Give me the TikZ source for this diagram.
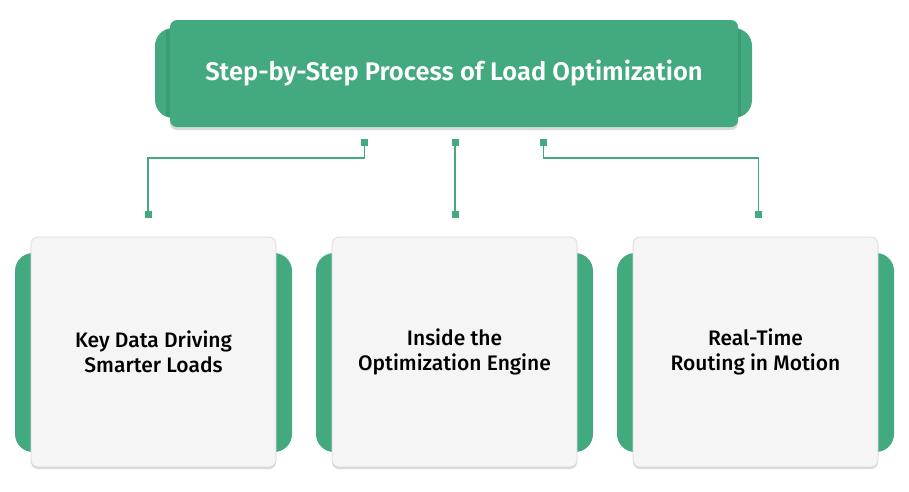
\documentclass[tikz,border=0pt]{standalone}
\usepackage{fontspec}
\setmainfont{Fira Sans}
\newfontfamily\medfont{Fira Sans Medium}
\newfontfamily\boldfont{Fira Sans SemiBold}
\usetikzlibrary{shadows}
\definecolor{grn}{HTML}{43AA80}
\definecolor{grndark}{HTML}{3A9C73}
\definecolor{cardfill}{HTML}{F5F5F5}
\definecolor{cardline}{HTML}{D6D6D6}
\begin{document}
\begin{tikzpicture}[x=1pt,y=-1pt,
  tab/.style={fill=grn, rounded corners=18pt},
  card/.style={fill=cardfill, draw=cardline, line width=0.6pt, rounded corners=7pt,
    drop shadow={shadow xshift=0pt, shadow yshift=-2pt, opacity=0.15, fill=black}},
  headbox/.style={fill=grn, rounded corners=7pt,
    drop shadow={shadow xshift=0pt, shadow yshift=-3pt, opacity=0.15, fill=black}},
  conn/.style={draw=grn, line width=1.3pt},
  dot/.style={fill=grn, minimum size=7pt, inner sep=0pt, draw=none, rectangle},
  cardtext/.style={font=\medfont\fontsize{21}{25}\selectfont, text=black, align=center},
  headtext/.style={font=\boldfont\fontsize{25.5}{28}\selectfont, text=white, align=center}]
\useasboundingbox (0,0) rectangle (909,491);
% header
\fill[tab] (155,28) rectangle (752,118);
\fill[grndark] (166,30) rectangle (176,116);
\fill[grndark] (731,30) rectangle (741,116);
\path[headbox] (170,20) rectangle (738,127);
\node[headtext] (head) at (454,73) {Step-by-Step Process of Load Optimization};
% cards
\foreach \x/\n in {15/1,316/2,617/3}{
  \fill[tab] (\x,253) rectangle ({\x+277},452);
}
\path[card] (31,237) rectangle (276,467);
\path[card] (332,237) rectangle (577,467);
\path[card] (633,237) rectangle (878,467);
\node[cardtext] (c1) at (153.5,352) {Key Data Driving\\Smarter Loads};
\node[cardtext] (c2) at (454.5,352) {Inside the\\Optimization Engine};
\node[cardtext] (c3) at (755.5,352) {Real-Time\\Routing in Motion};
% connectors
\node[dot] (t1) at (364.5,142) {};
\node[dot] (t2) at (455,142) {};
\node[dot] (t3) at (543.5,142) {};
\node[dot] (b1) at (148,214) {};
\node[dot] (b2) at (455,214) {};
\node[dot] (b3) at (758.5,214) {};
\draw[conn] (t1.center) |- (148,158) -- (b1.center);
\draw[conn] (t2.center) -- (b2.center);
\draw[conn] (t3.center) |- (758.5,158) -- (b3.center);
\node[dot] at (t1) {};
\node[dot] at (t2) {};
\node[dot] at (t3) {};
\node[dot] at (b1) {};
\node[dot] at (b2) {};
\node[dot] at (b3) {};
\end{tikzpicture}
\end{document}
